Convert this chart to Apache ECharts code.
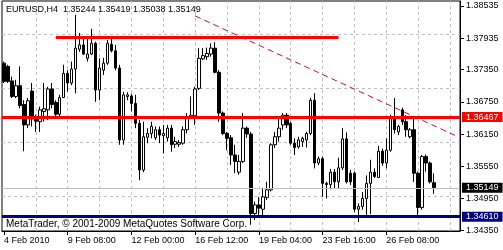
<!DOCTYPE html>
<html><head><meta charset="utf-8">
<script src="https://cdn.jsdelivr.net/npm/echarts@6.0.0/dist/echarts.min.js"></script>
<style>html,body{margin:0;padding:0;background:#fff}#c{width:503px;height:250px}</style>
</head><body><div id="c"></div>
<script>
const times = [
"4 Feb 20:00",
"5 Feb 00:00","5 Feb 04:00","5 Feb 08:00","5 Feb 12:00","5 Feb 16:00","5 Feb 20:00",
"7 Feb 20:00",
"8 Feb 00:00","8 Feb 04:00","8 Feb 08:00","8 Feb 12:00","8 Feb 16:00","8 Feb 20:00",
"9 Feb 00:00","9 Feb 04:00","9 Feb 08:00","9 Feb 12:00","9 Feb 16:00","9 Feb 20:00",
"10 Feb 00:00","10 Feb 04:00","10 Feb 08:00","10 Feb 12:00","10 Feb 16:00","10 Feb 20:00",
"11 Feb 00:00","11 Feb 04:00","11 Feb 08:00","11 Feb 12:00","11 Feb 16:00","11 Feb 20:00",
"12 Feb 00:00","12 Feb 04:00","12 Feb 08:00","12 Feb 12:00","12 Feb 16:00","12 Feb 20:00",
"14 Feb 20:00",
"15 Feb 00:00","15 Feb 04:00","15 Feb 08:00","15 Feb 12:00","15 Feb 16:00","15 Feb 20:00",
"16 Feb 00:00","16 Feb 04:00","16 Feb 08:00","16 Feb 12:00","16 Feb 16:00","16 Feb 20:00",
"17 Feb 00:00","17 Feb 04:00","17 Feb 08:00","17 Feb 12:00","17 Feb 16:00","17 Feb 20:00",
"18 Feb 00:00","18 Feb 04:00","18 Feb 08:00","18 Feb 12:00","18 Feb 16:00","18 Feb 20:00",
"19 Feb 00:00","19 Feb 04:00","19 Feb 08:00","19 Feb 12:00","19 Feb 16:00","19 Feb 20:00",
"21 Feb 20:00",
"22 Feb 00:00","22 Feb 04:00","22 Feb 08:00","22 Feb 12:00","22 Feb 16:00","22 Feb 20:00",
"23 Feb 00:00","23 Feb 04:00","23 Feb 08:00","23 Feb 12:00","23 Feb 16:00","23 Feb 20:00",
"24 Feb 00:00","24 Feb 04:00","24 Feb 08:00","24 Feb 12:00","24 Feb 16:00","24 Feb 20:00",
"25 Feb 00:00","25 Feb 04:00","25 Feb 08:00","25 Feb 12:00","25 Feb 16:00","25 Feb 20:00",
"26 Feb 00:00","26 Feb 04:00","26 Feb 08:00","26 Feb 12:00","26 Feb 16:00","26 Feb 20:00",
"28 Feb 20:00",
"1 Mar 00:00","1 Mar 04:00","1 Mar 08:00","1 Mar 12:00","1 Mar 16:00","1 Mar 20:00",
"2 Mar 00:00","2 Mar 04:00"
];
// empty future slots (chart shift)
const futureSlots = ["2 Mar 08:00","2 Mar 12:00","2 Mar 16:00","2 Mar 20:00","3 Mar 00:00","3 Mar 04:00"];

const open = [
1.3747,1.3741,1.3714,1.3685,1.3705,1.3670,1.3632,1.3695,1.3643,1.3638,
1.3657,1.3660,1.3699,1.3674,1.3652,1.3683,1.3728,1.3710,1.3736,1.3773,
1.3781,1.3756,1.3764,1.3784,1.3697,1.3734,1.3747,1.3782,1.3770,1.3738,
1.3604,1.3685,1.3686,1.3672,1.3635,1.3548,1.3609,1.3616,1.3608,1.3623,
1.3612,1.3608,1.3626,1.3596,1.3596,1.3598,1.3623,1.3647,1.3649,1.3700,
1.3755,1.3759,1.3764,1.3775,1.3730,1.3654,1.3616,1.3608,1.3576,1.3544,
1.3564,1.3626,1.3615,1.3467,1.3483,1.3475,1.3497,1.3511,1.3595,1.3610,
1.3632,1.3650,1.3635,1.3598,1.3591,1.3601,1.3604,1.3616,1.3678,1.3561,
1.3569,1.3523,1.3521,1.3544,1.3526,1.3552,1.3606,1.3542,1.3542,1.3475,
1.3480,1.3495,1.3523,1.3544,1.3534,1.3583,1.3561,1.3585,1.3647,1.3619,
1.3660,1.3638,1.3610,1.3623,1.3542,1.3478,1.3573,1.3561,1.35244
];
const close = [
1.3713,1.3713,1.3685,1.3705,1.3668,1.3632,1.3677,1.3643,1.3639,1.3660,
1.3662,1.3699,1.3670,1.3652,1.3683,1.3728,1.3710,1.3736,1.3775,1.3781,
1.3764,1.3764,1.3784,1.3697,1.3738,1.3747,1.3784,1.3770,1.3738,1.3604,
1.3688,1.3688,1.3672,1.3635,1.3548,1.3610,1.3616,1.3629,1.3623,1.3613,
1.3616,1.3626,1.3595,1.3601,1.3599,1.3623,1.3647,1.3650,1.3699,1.3756,
1.3761,1.3765,1.3775,1.3730,1.3654,1.3616,1.3607,1.3576,1.3564,1.3564,
1.3626,1.3615,1.3467,1.3483,1.3477,1.3498,1.3511,1.3595,1.3610,1.3626,
1.3650,1.3632,1.3598,1.3590,1.3604,1.3607,1.3616,1.3678,1.3561,1.3569,
1.3523,1.3521,1.3544,1.3526,1.3552,1.3606,1.3526,1.3526,1.3475,1.3480,
1.3495,1.3523,1.3544,1.3536,1.3583,1.3561,1.3585,1.3647,1.3623,1.3629,
1.3638,1.3623,1.3623,1.3542,1.3478,1.3573,1.3561,1.3526,1.35149
];
const low = [
1.3710,1.3710,1.3682,1.3682,1.3663,1.3583,1.3626,1.3629,1.3619,1.3619,
1.3638,1.3641,1.3663,1.3644,1.3647,1.3682,1.3694,1.3706,1.3691,1.3768,
1.3762,1.3750,1.3762,1.3675,1.3678,1.3725,1.3744,1.3767,1.3734,1.3595,
1.3595,1.3678,1.3657,1.3626,1.3529,1.3544,1.3598,1.3607,1.3604,1.3598,
1.3579,1.3601,1.3582,1.3589,1.3591,1.3595,1.3616,1.3644,1.3632,1.3697,
1.3753,1.3753,1.3759,1.3728,1.3638,1.3613,1.3585,1.3557,1.3542,1.3539,
1.3561,1.3608,1.3446,1.3455,1.3461,1.3459,1.3492,1.3508,1.3589,1.3601,
1.3623,1.3626,1.3595,1.3576,1.3588,1.3591,1.3590,1.3613,1.3551,1.3557,
1.3498,1.3495,1.3512,1.3514,1.3514,1.3548,1.3523,1.3520,1.3470,1.3451,
1.3474,1.3459,1.3466,1.3533,1.3533,1.3556,1.3551,1.3582,1.3616,1.3613,
1.3632,1.3610,1.3607,1.3526,1.3461,1.3474,1.3545,1.3523,1.35038
];
const high = [
1.3750,1.3744,1.3722,1.3716,1.3741,1.3678,1.3682,1.3710,1.3651,1.3666,
1.3710,1.3703,1.3710,1.3678,1.3688,1.3744,1.3734,1.3750,1.3837,1.3803,
1.3796,1.3796,1.3811,1.3787,1.3756,1.3757,1.3790,1.3796,1.3781,1.3744,
1.3694,1.3693,1.3690,1.3688,1.3641,1.3638,1.3626,1.3638,1.3629,1.3629,
1.3632,1.3632,1.3632,1.3610,1.3604,1.3629,1.3654,1.3685,1.3703,1.3775,
1.3775,1.3776,1.3784,1.3786,1.3734,1.3657,1.3619,1.3613,1.3595,1.3576,
1.3654,1.3629,1.3619,1.3489,1.3498,1.3515,1.3526,1.3598,1.3619,1.3644,
1.3654,1.3654,1.3638,1.3607,1.3610,1.3610,1.3619,1.3682,1.3691,1.3573,
1.3573,1.3526,1.3550,1.3550,1.3571,1.3626,1.3618,1.3548,1.3545,1.3486,
1.3507,1.3538,1.3567,1.3551,1.3593,1.3588,1.3607,1.3651,1.3682,1.3632,
1.3664,1.3650,1.3626,1.3644,1.3545,1.3576,1.3577,1.3564,1.35419
];

const yTicks = [1.38535,1.37935,1.37350,1.36750,1.36150,1.35550,1.34950,1.34350];
const xTickIndex = [0,16,32,48,64,80,96];
const xTickLabels = ["4 Feb 2010","9 Feb 08:00","12 Feb 00:00","16 Feb 12:00","19 Feb 04:00","23 Feb 16:00","26 Feb 08:00"];
const vGridIndex = [8,16,24,32,40,48,56,64,72,80,88,96,104,112];
const resistanceLevel = 1.36467;
const supportLevel = 1.34610;
const bidPrice = 1.35149;
const upperLevel = 1.3796, upperFrom = 13, upperTo = 84;
const trendStart = [48, 1.3835], trendEnd = [114, 1.3610];
const titleText = "EURUSD,H4  1.35244 1.35419 1.35038 1.35149";
const copyright = "MetaTrader, \u00a9 2001-2009 MetaQuotes Software Corp.";

const FONT = '"Liberation Sans", Arial, sans-serif';
const categories = times.concat(futureSlots);
const candles = times.map((t, i) => [open[i], close[i], low[i], high[i]]);
const lastIdx = categories.length - 1;

function boxLabel(text, bg) {
  return { show: true, position: 'end', distance: 2, formatter: text, color: '#fff',
    backgroundColor: bg, padding: [1, 4, 0, 4], fontSize: 9, lineHeight: 9, fontFamily: FONT };
}
function hLine(value, style, label) {
  return [ { coord: [0, value], x: 2, lineStyle: style, label: label || { show: false } }, { coord: [lastIdx, value], x: 460 } ];
}

const chart = echarts.init(document.getElementById('c'), null, { renderer: 'canvas' });
chart.setOption({
  animation: false,
  backgroundColor: '#fff',
  title: { text: titleText, left: 6, top: 5, padding: 0,
    textStyle: { fontSize: 9, fontWeight: 'normal', color: '#000', fontFamily: FONT } },
  graphic: [{ type: 'text', left: 6, top: 219, z: 10,
    style: { text: copyright, fontSize: 10, fill: '#000', fontFamily: FONT } }],
  grid: { left: 2, top: 1, width: 458, height: 230, show: true, borderColor: '#000', borderWidth: 1, backgroundColor: '#fff' },
  xAxis: {
    type: 'category', data: categories, boundaryGap: true,
    axisLine: { show: true, lineStyle: { color: '#000', width: 1 } },
    axisTick: { show: true, alignWithLabel: true, length: 4, interval: (i) => xTickIndex.includes(i), lineStyle: { color: '#000' } },
    axisLabel: { interval: (i) => xTickIndex.includes(i), align: 'left', margin: 5, color: '#000', fontSize: 9, fontFamily: FONT,
      formatter: (v, i) => { const j = xTickIndex.indexOf(i); return j >= 0 ? xTickLabels[j] : ''; } },
    splitLine: { show: false }
  },
  yAxis: {
    type: 'value', position: 'right', min: 1.34344, max: 1.38628,
    axisLine: { show: true, lineStyle: { color: '#000', width: 1 } },
    axisTick: { show: true, length: 4, customValues: yTicks, lineStyle: { color: '#000' } },
    axisLabel: { customValues: yTicks, margin: 6, color: '#000', fontSize: 9, fontFamily: FONT, formatter: (v) => v.toFixed(5) },
    splitLine: { show: false }
  },
  series: [
    { type: 'line', data: [], z: 1, silent: true,
      markLine: { z: 1, symbol: 'none', silent: true, animation: false, label: { show: false },
        lineStyle: { color: '#c0c0c0', type: [3, 3], width: 1 },
        data: yTicks.map(v => ({ yAxis: v })).concat(vGridIndex.map(i => ({ xAxis: i }))) } },
    { type: 'candlestick', data: candles, z: 2, barWidth: 3,
      itemStyle: { color: '#ffffff', color0: '#000000', borderColor: '#000000', borderColor0: '#000000', borderWidth: 1 },
      markLine: { z: 5, symbol: 'none', silent: true, animation: false, label: { show: false },
        data: [
          hLine(bidPrice, { color: '#c0c0c0', width: 1, type: 'solid' }, boxLabel('1.35149', '#000000')),
          hLine(resistanceLevel, { color: '#ff0000', width: 3, type: 'solid' }, boxLabel('1.36467', '#ff0000')),
          hLine(supportLevel, { color: '#000080', width: 3, type: 'solid' }, boxLabel('1.34610', '#000080')),
          [ { coord: [upperFrom, upperLevel], lineStyle: { color: '#ff0000', width: 3, type: 'solid' } }, { coord: [upperTo, upperLevel] } ],
          [ { coord: trendStart, lineStyle: { color: '#c8102e', width: 1, type: [6, 4] } }, { coord: trendEnd } ]
        ] } }
  ]
});
</script></body></html>
